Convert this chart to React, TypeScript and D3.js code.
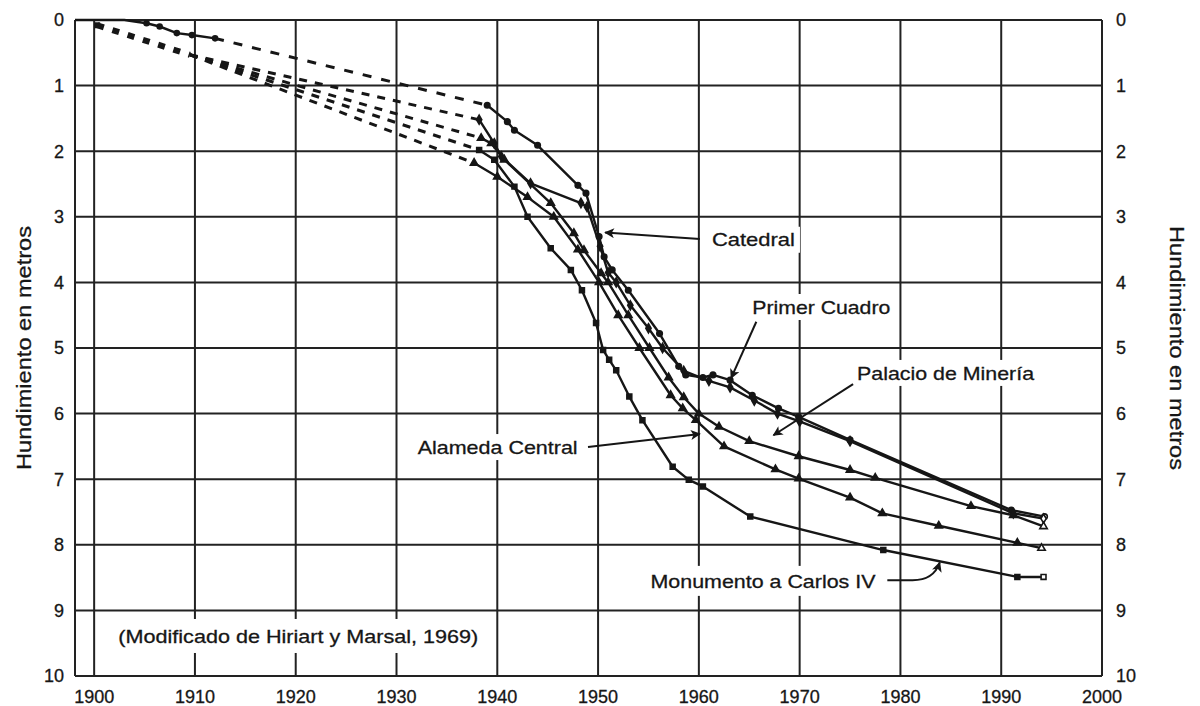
import React from 'react';
import * as d3 from 'd3';

type Pt = [number, number];

// ---- tick values ----
const xTickYears = [1900, 1910, 1920, 1930, 1940, 1950, 1960, 1970, 1980, 1990, 2000];
const yTickDepths = [0, 1, 2, 3, 4, 5, 6, 7, 8, 9, 10];

// ---- series: [year, subsidence in metres] ----
const earlyRecord: Pt[] = [[1898.1, 0], [1903, 0.0], [1905.2, 0.05], [1906.5, 0.1], [1908.2, 0.2], [1909.7, 0.23], [1912, 0.28]];
const earlyMarkers: Pt[] = [[1905.2, 0.05], [1906.5, 0.1], [1908.2, 0.2], [1909.7, 0.23], [1912, 0.28]];
const sharedEstimate: Pt[] = [[1900.3, 0.08], [1909.5, 0.53]];

const catedral: Pt[] = [[1939.0, 1.3], [1941.0, 1.55], [1941.7, 1.68], [1944.0, 1.91], [1948.0, 2.52], [1948.8, 2.64], [1950.1, 3.3], [1950.6, 3.61], [1951.4, 3.81], [1953.0, 4.12], [1956.1, 4.78], [1958.0, 5.28], [1958.7, 5.41], [1960.4, 5.45], [1961.4, 5.41], [1963.1, 5.49], [1965.3, 5.72], [1967.9, 5.92], [1969.9, 6.05], [1975, 6.4], [1991.0, 7.47], [1994.3, 7.57]];
const primerCuadro: Pt[] = [[1938.2, 1.52], [1939.7, 1.88], [1940.4, 2.08], [1943.3, 2.49], [1948.3, 2.79], [1948.9, 2.85], [1950.2, 3.45], [1951.0, 3.85], [1951.8, 4.0], [1953.2, 4.35], [1955.0, 4.7], [1956.4, 5.0], [1958.5, 5.35], [1961.0, 5.5], [1963.1, 5.6], [1965.5, 5.8], [1967.8, 6.0], [1970.0, 6.12], [1975, 6.42], [1991.2, 7.52], [1994.2, 7.6]];
const palacioMineria: Pt[] = [[1938.4, 1.8], [1939.4, 1.88], [1940.7, 2.13], [1945.3, 2.79], [1947.6, 3.25], [1948.6, 3.51], [1950.3, 3.86], [1951.0, 4.0], [1953.0, 4.5], [1955.1, 5.0], [1957.0, 5.45], [1958.5, 5.75], [1960.0, 6.0], [1962.0, 6.2], [1965.0, 6.42], [1969.9, 6.65], [1975, 6.86], [1977.5, 6.98], [1987.0, 7.41], [1991.2, 7.55], [1994.2, 7.72]];
const alamedaCentral: Pt[] = [[1937.7, 2.18], [1940.0, 2.39], [1943.0, 2.7], [1945.6, 3.0], [1948.0, 3.5], [1950.1, 4.0], [1952.0, 4.5], [1954.1, 5.0], [1957.2, 5.72], [1958.4, 5.92], [1959.7, 6.1], [1962.5, 6.5], [1967.6, 6.85], [1969.9, 6.99], [1975, 7.28], [1978.2, 7.52], [1983.8, 7.71], [1991.6, 7.97], [1994.0, 8.05]];
const monumentoCarlosIV: Pt[] = [[1938.2, 1.98], [1939.7, 2.13], [1941.7, 2.54], [1943.0, 3.0], [1945.3, 3.48], [1947.3, 3.81], [1948.4, 4.12], [1949.8, 4.62], [1950.5, 5.03], [1951.1, 5.18], [1951.8, 5.34], [1953.1, 5.74], [1954.4, 6.1], [1957.4, 6.81], [1959.0, 7.01], [1960.4, 7.11], [1965.1, 7.57], [1978.3, 8.08], [1991.6, 8.49], [1994.2, 8.49]];

const seriesList = [
  { name: 'Catedral', data: catedral, symbol: d3.symbolCircle },
  { name: 'Primer Cuadro', data: primerCuadro, symbol: d3.symbolDiamond },
  { name: 'Palacio de Minería', data: palacioMineria, symbol: d3.symbolTriangle },
  { name: 'Alameda Central', data: alamedaCentral, symbol: d3.symbolTriangle },
  { name: 'Monumento a Carlos IV', data: monumentoCarlosIV, symbol: d3.symbolSquare },
];

// ---- annotations (data coordinates) ----
const annotations = [
  { text: 'Catedral', tx: 1961.3, ty: 3.35, w: 83, from: [1960.1, 3.34] as Pt, to: [1950.7, 3.24] as Pt },
  { text: 'Primer Cuadro', tx: 1965.3, ty: 4.375, w: 138, from: [1965.7, 4.6] as Pt, to: [1963.2, 5.46] as Pt },
  { text: 'Palacio de Minería', tx: 1975.7, ty: 5.38, w: 177, from: [1975.3, 5.55] as Pt, to: [1967.4, 6.33] as Pt },
  { text: 'Alameda Central', tx: 1932.1, ty: 6.51, w: 160, from: [1949.0, 6.51] as Pt, to: [1960.1, 6.31] as Pt },
];
const monumentoNote = { text: 'Monumento a Carlos IV', tx: 1955.2, ty: 8.55, w: 225, from: [1978.7, 8.54] as Pt, bend: [1981.2, 8.54] as Pt, to: [1983.9, 8.27] as Pt };
const sourceNote = { text: '(Modificado de Hiriart y Marsal, 1969)', tx: 1902.4, ty: 9.39, w: 360 };

const FONT = '"Liberation Sans", Arial, Helvetica, sans-serif';
const INK = '#161616';

export default function App() {
  const x = d3.scaleLinear().domain([1898.1, 2000]).range([75, 1102]);
  const y = d3.scaleLinear().domain([0, 10]).range([20, 676]);
  const line = d3.line<Pt>().x(d => x(d[0])).y(d => y(d[1]));
  const [x0, x1] = x.range();
  const [y0, y1] = y.range();
  const midY = y(5);

  const labelBox = (tx: number, ty: number, w: number, h = 26) => (
    <rect x={x(tx) - 5} y={y(ty) - h / 2} width={w + 10} height={h} fill="#fff" />
  );
  const label = (text: string, tx: number, ty: number, w: number) => (
    <text x={x(tx)} y={y(ty)} dy="0.35em" fontSize={19} fontFamily={FONT} fill={INK}
      stroke={INK} strokeWidth={0.3}
      textLength={w} lengthAdjust="spacingAndGlyphs">{text}</text>
  );

  const monPath = d3.path();
  monPath.moveTo(x(monumentoNote.from[0]), y(monumentoNote.from[1]));
  monPath.lineTo(x(monumentoNote.bend[0]), y(monumentoNote.bend[1]));
  monPath.quadraticCurveTo(x(monumentoNote.to[0]) - 6, y(monumentoNote.bend[1]), x(monumentoNote.to[0]), y(monumentoNote.to[1]));

  return (
    <svg width={1200} height={706} style={{ position: 'absolute', left: 0, top: 0, display: 'block', background: '#fff' }}>
      <defs>
        <marker id="ah" viewBox="0 0 10 10" refX="9" refY="5" markerWidth="13" markerHeight="10"
          orient="auto" markerUnits="userSpaceOnUse">
          <path d="M0,0 L10,5 L0,10 L2.5,5 z" fill={INK} />
        </marker>
      </defs>
      <rect x={0} y={0} width={1200} height={706} fill="#fff" />

      {/* grid */}
      <g stroke="#222" strokeWidth={2}>
        {yTickDepths.map(d => (
          <line key={'h' + d} x1={x0} x2={x1} y1={y(d)} y2={y(d)} />
        ))}
        {xTickYears.map(yr => (
          <line key={'v' + yr} x1={x(yr)} x2={x(yr)} y1={y0} y2={y1} />
        ))}
        <line x1={x0} x2={x0} y1={y0} y2={y1} />
      </g>

      {/* white boxes behind notes (interrupt the grid) */}
      {annotations.map(a => <g key={'b' + a.text}>{labelBox(a.tx, a.ty, a.w)}</g>)}
      {labelBox(monumentoNote.tx, monumentoNote.ty, monumentoNote.w, 30)}
      {labelBox(sourceNote.tx, sourceNote.ty, sourceNote.w, 34)}

      {/* tick labels */}
      <g fontFamily={FONT} fontSize={18} fill={INK} stroke={INK} strokeWidth={0.3}>
        {yTickDepths.map(d => (
          <text key={'l' + d} x={64} y={y(d)} dy="0.35em" textAnchor="end">{d}</text>
        ))}
        {yTickDepths.map(d => (
          <text key={'r' + d} x={1116} y={y(d)} dy="0.35em" textAnchor="start">{d}</text>
        ))}
        {xTickYears.map(yr => (
          <text key={'x' + yr} x={x(yr)} y={703} textAnchor="middle">{yr}</text>
        ))}
      </g>

      {/* axis titles */}
      <text transform={`translate(24,${midY}) rotate(-90)`} textAnchor="middle" dy="0.35em"
        fontFamily={FONT} fontSize={20} fill={INK} stroke={INK} strokeWidth={0.3}
        textLength={244} lengthAdjust="spacingAndGlyphs">Hundimiento en metros</text>
      <text transform={`translate(1177,${midY}) rotate(90)`} textAnchor="middle" dy="0.35em"
        fontFamily={FONT} fontSize={20} fill={INK} stroke={INK} strokeWidth={0.3}
        textLength={244} lengthAdjust="spacingAndGlyphs">Hundimiento en metros</text>

      {/* estimated (dashed) early history */}
      <g fill="none" stroke={INK} strokeLinecap="butt">
        <path d={line(sharedEstimate) || ''} strokeWidth={6} strokeDasharray="7,9" />
        <path d={line([earlyRecord[earlyRecord.length - 1], catedral[0]]) || ''} strokeWidth={3} strokeDasharray="9,10" />
        {[primerCuadro, palacioMineria, monumentoCarlosIV, alamedaCentral].map((s, i) => (
          <path key={'d' + i} d={line([sharedEstimate[1], s[0]]) || ''} strokeWidth={3} strokeDasharray="8,8" />
        ))}
      </g>

      {/* early measured record */}
      <path d={line(earlyRecord) || ''} fill="none" stroke={INK} strokeWidth={2.5} />
      {earlyMarkers.map((p, i) => (
        <path key={'em' + i} transform={`translate(${x(p[0])},${y(p[1])})`}
          d={d3.symbol().type(d3.symbolCircle).size(34)() || ''} fill={INK} />
      ))}
      <path transform={`translate(${x(sharedEstimate[0][0])},${y(sharedEstimate[0][1])})`}
        d={d3.symbol().type(d3.symbolSquare).size(36)() || ''} fill={INK} />

      {/* series */}
      {seriesList.map(s => (
        <g key={s.name}>
          <path d={line(s.data) || ''} fill="none" stroke={INK} strokeWidth={2.4} strokeLinejoin="round" />
          {s.data.map((p, i) => (
            <path key={i} transform={`translate(${x(p[0])},${y(p[1])})`}
              d={d3.symbol().type(s.symbol).size(24)() || ''}
              fill={i === s.data.length - 1 ? '#fff' : INK} stroke={INK} strokeWidth={1.6} />
          ))}
        </g>
      ))}

      {/* notes and arrows */}
      {annotations.map(a => (
        <g key={'n' + a.text}>
          {label(a.text, a.tx, a.ty, a.w)}
          <line x1={x(a.from[0])} y1={y(a.from[1])} x2={x(a.to[0])} y2={y(a.to[1])}
            stroke={INK} strokeWidth={2} markerEnd="url(#ah)" />
        </g>
      ))}
      {label(monumentoNote.text, monumentoNote.tx, monumentoNote.ty, monumentoNote.w)}
      <path d={monPath.toString()} fill="none" stroke={INK} strokeWidth={2} markerEnd="url(#ah)" />
      {label(sourceNote.text, sourceNote.tx, sourceNote.ty, sourceNote.w)}
    </svg>
  );
}
